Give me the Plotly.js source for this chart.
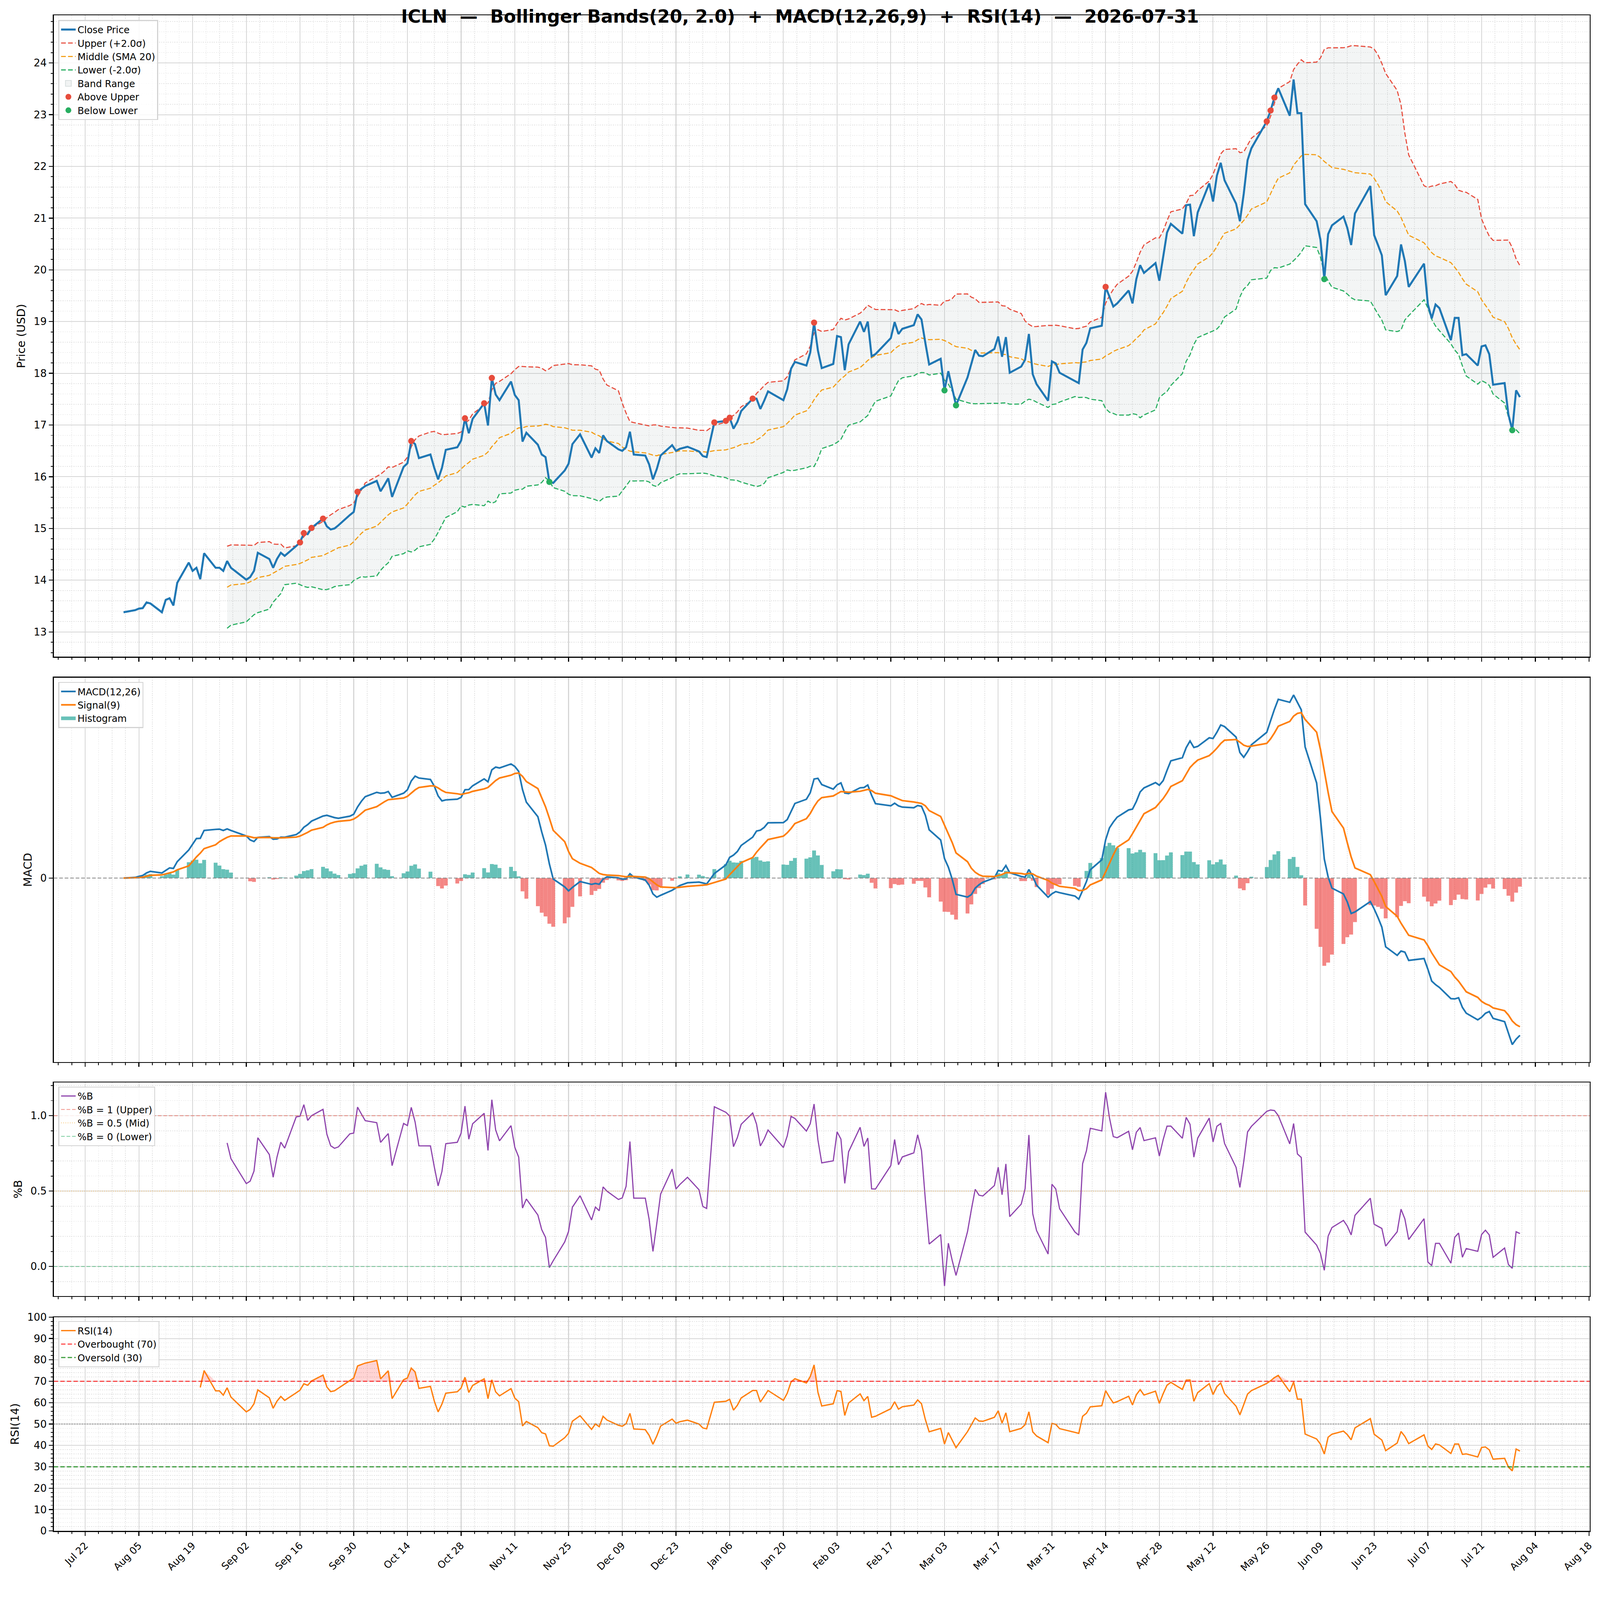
<!DOCTYPE html>
<html><head><meta charset="utf-8">
<script src="https://cdn.plot.ly/plotly-3.0.1.min.js"></script>
<style>html,body{margin:0;padding:0;background:#fff;overflow:hidden}#chart{width:4378px;height:4322px;transform-origin:0 0}</style>
</head><body><div id="chart"></div>
<script>
const FONT = 'DejaVu Sans, sans-serif';
const firstDay = '2025-08-01';
const lastDay = '2026-07-31';
const marketHolidays = ['2025-09-01','2025-11-27','2025-12-25','2026-01-01','2026-01-19','2026-02-16','2026-04-03','2026-05-25','2026-06-19','2026-07-03'];

const closePrice = [
 13.38,13.42,13.45,13.46,13.57,13.55,13.38,13.62,13.65,13.51,13.95,14.34,14.18,14.24,14.02,14.52,14.24,14.24,14.18,14.37,14.24,
 14.01,14.06,14.18,14.53,14.41,14.24,14.41,14.53,14.47,14.66,14.73,14.91,14.89,15.01,15.19,15.04,14.98,15.00,15.06,15.26,15.32,
 15.71,15.76,15.82,15.92,15.72,15.84,15.97,15.61,16.19,16.26,16.69,16.63,16.36,16.43,16.17,15.95,16.17,16.52,16.57,16.70,17.13,16.84,17.12,
 17.42,16.99,17.91,17.59,17.48,17.84,17.58,17.48,16.68,16.85,16.62,16.43,16.38,15.90,15.88,16.12,16.25,16.63,16.82,
 16.37,16.55,16.46,16.80,16.69,16.53,16.50,16.57,16.87,16.43,16.41,16.24,15.95,16.15,16.41,16.61,16.50,16.54,16.58,16.49,16.40,16.38,
 17.05,17.08,17.14,16.93,17.06,17.27,17.51,17.51,17.31,17.47,17.65,17.48,17.69,18.09,18.22,18.15,18.40,18.98,18.44,18.10,
 18.18,18.72,18.70,18.06,18.56,19.00,18.80,19.00,18.33,18.37,18.68,18.99,18.76,18.86,18.93,19.14,19.04,18.59,18.17,
 18.28,17.67,18.04,17.73,17.38,17.92,18.19,18.45,18.34,18.33,18.47,18.71,18.32,18.70,18.01,18.13,18.26,18.76,17.98,17.79,17.47,18.23,
 18.19,18.01,17.85,17.81,18.46,18.59,18.87,18.92,19.67,19.47,19.29,19.35,19.60,19.35,19.82,20.09,19.94,20.13,19.79,20.25,20.72,
 20.89,20.70,21.25,21.26,20.65,21.11,21.67,21.32,21.82,22.07,21.73,21.28,20.94,21.47,22.12,22.35,22.87,23.08,23.33,23.51,
 22.98,23.68,23.03,23.03,21.27,20.94,20.58,19.82,20.69,20.86,21.03,20.81,20.48,21.09,21.62,20.67,20.48,20.28,19.51,19.88,20.49,
 20.17,19.67,20.12,19.33,19.06,19.33,19.26,18.64,19.07,19.07,18.35,18.37,18.15,18.52,18.54,18.37,17.78,17.81,17.20,16.90,17.67,17.54
];
const aboveUpperDates = ['2025-09-16','2025-09-17','2025-09-19','2025-09-22','2025-10-01','2025-10-15','2025-10-29','2025-11-03','2025-11-05','2026-01-02','2026-01-05','2026-01-06','2026-01-12','2026-01-28','2026-04-14','2026-05-26','2026-05-27','2026-05-28'];
const belowLowerDates = ['2025-11-20','2026-03-03','2026-03-06','2026-06-10','2026-07-29'];
const bbPeriod = 20, bbK = 2.0;
const macdFast = 12, macdSlow = 26, macdSig = 9;
const rsiPeriod = 14;
const rsiLevels = [70, 30, 50];
const pctBLevels = [1, 0.5, 0];
const titleText = 'ICLN\u00a0\u00a0—\u00a0\u00a0Bollinger Bands(20, 2.0)\u00a0\u00a0+\u00a0\u00a0MACD(12,26,9)\u00a0\u00a0+\u00a0\u00a0RSI(14)\u00a0\u00a0—\u00a0\u00a02026-07-31';

// trading-day calendar
const dates = [];
(function(){
  const pad = n => (n<10?'0':'')+n;
  let d = new Date(firstDay+'T00:00:00Z');
  const end = new Date(lastDay+'T00:00:00Z');
  while (d <= end) {
    const wd = d.getUTCDay();
    const s = d.getUTCFullYear()+'-'+pad(d.getUTCMonth()+1)+'-'+pad(d.getUTCDate());
    if (wd!==0 && wd!==6 && marketHolidays.indexOf(s)<0) dates.push(s);
    d = new Date(d.getTime()+86400000);
  }
})();
if (dates.length !== closePrice.length) console.error('length mismatch', dates.length, closePrice.length);

// indicators
const N = closePrice.length;
const mid=[], up=[], lo=[], bbX=[], pctB=[];
for (let i=bbPeriod-1;i<N;i++){
  let s=0; for(let j=i-bbPeriod+1;j<=i;j++) s+=closePrice[j];
  const m=s/bbPeriod; let v=0;
  for(let j=i-bbPeriod+1;j<=i;j++) v+=(closePrice[j]-m)**2;
  const sd=Math.sqrt(v/(bbPeriod-1));
  bbX.push(dates[i]); mid.push(m); up.push(m+bbK*sd); lo.push(m-bbK*sd);
  pctB.push((closePrice[i]-(m-bbK*sd))/(2*bbK*sd));
}
function ema(arr, span){ const a=2/(span+1); const out=[arr[0]]; for(let i=1;i<arr.length;i++) out.push(a*arr[i]+(1-a)*out[i-1]); return out; }
const e12=ema(closePrice,macdFast), e26=ema(closePrice,macdSlow);
const macd=e12.map((v,i)=>v-e26[i]);
const signal=ema(macd,macdSig);
const hist=macd.map((v,i)=>v-signal[i]);
// Wilder RSI (ewm alpha=1/14, adjust=False, min_periods=14)
const rsiX=[], rsi=[];
(function(){
  const a=1/rsiPeriod; let ag=null, al=null;
  for(let i=1;i<N;i++){
    const d=closePrice[i]-closePrice[i-1];
    const g=d>0?d:0, l=d<0?-d:0;
    if(ag===null){ag=g; al=l;} else {ag=a*g+(1-a)*ag; al=a*l+(1-a)*al;}
    if(i>=rsiPeriod){ rsiX.push(dates[i]); rsi.push(al===0?100:100-100/(1+ag/al)); }
  }
})();
const idxOf = d => dates.indexOf(d);

const xr = ['2025-07-13 19:12','2026-08-18 04:48'];
const DAY = 86400000;
const tickFont = {family:FONT, size:28, color:'#000'};
const titleFont = {family:FONT, size:31, color:'#000'};
const gridC = '#d6d6d6', minorGridC = '#e2e2e2';

function xAxis(show, anchor){
  return {type:'date', range:xr, matches: anchor==='y'?undefined:'x', anchor:anchor,
    tick0:'2025-07-22', dtick:14*DAY, tickformat:'%b %d', showticklabels:show, tickangle:-45,
    tickfont:{family:FONT,size:27,color:'#000'},
    ticks:'outside', ticklen:11, tickwidth:2.5, tickcolor:'#000',
    showline:true, linecolor:'#000', linewidth:2.5, mirror:true,
    showgrid:true, gridcolor:gridC, gridwidth:2.2, zeroline:false,
    minor:{tick0:'2025-07-22', dtick:3.5*DAY, ticks:'outside', ticklen:6, tickwidth:2, tickcolor:'#000', showgrid:true, gridcolor:minorGridC, griddash:'dot', gridwidth:1.6}};
}
function yAxis(domain, anchor, extra){
  return Object.assign({domain:domain, anchor:anchor, tickfont:tickFont,
    ticks:'outside', ticklen:11, tickwidth:2.5, tickcolor:'#000',
    showline:true, linecolor:'#000', linewidth:2.5, mirror:true,
    showgrid:true, gridcolor:gridC, gridwidth:2.2, zeroline:false}, extra);
}
const H = 4147;
const dom = (topPx, botPx) => [(4189-botPx)/H, (4189-topPx)/H];

const traces = [];
// price panel
traces.push({x:bbX, y:lo, type:'scatter', mode:'lines', line:{width:0, color:'rgba(0,0,0,0)'}, showlegend:false, xaxis:'x', yaxis:'y'});
traces.push({x:bbX, y:up, type:'scatter', mode:'lines', fill:'tonexty', fillcolor:'rgba(149,165,166,0.11)', line:{width:0, color:'rgba(0,0,0,0)'}, showlegend:false, xaxis:'x', yaxis:'y'});
traces.push({x:[null], y:[null], type:'scatter', mode:'markers', marker:{symbol:'square', size:24, color:'rgba(149,165,166,0.12)', line:{color:'rgba(149,165,166,0.35)', width:2}}, name:'Band Range', legendrank:5, legend:'legend', xaxis:'x', yaxis:'y'});
traces.push({x:bbX, y:up, type:'scatter', mode:'lines', line:{color:'#e74c3c', width:3, dash:'13px,6px'}, name:'Upper (+2.0σ)', legendrank:2, legend:'legend', xaxis:'x', yaxis:'y'});
traces.push({x:bbX, y:mid, type:'scatter', mode:'lines', line:{color:'#f39c12', width:3, dash:'13px,6px'}, name:'Middle (SMA 20)', legendrank:3, legend:'legend', xaxis:'x', yaxis:'y'});
traces.push({x:bbX, y:lo, type:'scatter', mode:'lines', line:{color:'#27ae60', width:3, dash:'13px,6px'}, name:'Lower (-2.0σ)', legendrank:4, legend:'legend', xaxis:'x', yaxis:'y'});
traces.push({x:dates, y:closePrice, type:'scatter', mode:'lines', line:{color:'#1f77b4', width:5.5}, name:'Close Price', legendrank:1, legend:'legend', xaxis:'x', yaxis:'y'});
traces.push({x:aboveUpperDates, y:aboveUpperDates.map(d=>closePrice[idxOf(d)]), type:'scatter', mode:'markers', marker:{color:'#e74c3c', size:17}, name:'Above Upper', legendrank:6, legend:'legend', xaxis:'x', yaxis:'y'});
traces.push({x:belowLowerDates, y:belowLowerDates.map(d=>closePrice[idxOf(d)]), type:'scatter', mode:'markers', marker:{color:'#27ae60', size:17}, name:'Below Lower', legendrank:7, legend:'legend', xaxis:'x', yaxis:'y'});

// MACD panel
traces.push({x:dates, y:hist.map(v=>v>=0?v:null), type:'bar', width:DAY, marker:{color:'rgba(38,166,154,0.7)', line:{width:0}}, showlegend:false, xaxis:'x2', yaxis:'y2'});
traces.push({x:dates, y:hist.map(v=>v<0?v:null), type:'bar', width:DAY, marker:{color:'rgba(239,83,80,0.7)', line:{width:0}}, showlegend:false, xaxis:'x2', yaxis:'y2'});
traces.push({x:dates, y:macd, type:'scatter', mode:'lines', line:{color:'#1f77b4', width:4.5}, name:'MACD(12,26)', legendrank:1, legend:'legend2', xaxis:'x2', yaxis:'y2'});
traces.push({x:dates, y:signal, type:'scatter', mode:'lines', line:{color:'#ff7f0e', width:4.5}, name:'Signal(9)', legendrank:2, legend:'legend2', xaxis:'x2', yaxis:'y2'});
traces.push({x:[null], y:[null], type:'scatter', mode:'lines', line:{color:'rgba(38,166,154,0.7)', width:10}, name:'Histogram', legendrank:3, legend:'legend2', xaxis:'x2', yaxis:'y2'});

// %B panel
traces.push({x:bbX, y:pctB, type:'scatter', mode:'lines', line:{color:'#8e44ad', width:3.2}, name:'%B', legendrank:1, legend:'legend3', xaxis:'x3', yaxis:'y3'});
traces.push({x:xr, y:[pctBLevels[0],pctBLevels[0]], type:'scatter', mode:'lines', line:{color:'rgba(231,76,60,0.6)', width:2.2, dash:'10px,5px'}, name:'%B = 1 (Upper)', legendrank:2, legend:'legend3', xaxis:'x3', yaxis:'y3'});
traces.push({x:xr, y:[pctBLevels[1],pctBLevels[1]], type:'scatter', mode:'lines', line:{color:'rgba(243,156,18,0.6)', width:2.2, dash:'2px,4px'}, name:'%B = 0.5 (Mid)', legendrank:3, legend:'legend3', xaxis:'x3', yaxis:'y3'});
traces.push({x:xr, y:[pctBLevels[2],pctBLevels[2]], type:'scatter', mode:'lines', line:{color:'rgba(39,174,96,0.6)', width:2.2, dash:'10px,5px'}, name:'%B = 0 (Lower)', legendrank:4, legend:'legend3', xaxis:'x3', yaxis:'y3'});

// RSI panel
traces.push({x:rsiX, y:rsiX.map(()=>rsiLevels[0]), type:'scatter', mode:'lines', line:{width:0,color:'rgba(0,0,0,0)'}, showlegend:false, xaxis:'x4', yaxis:'y4'});
traces.push({x:rsiX, y:rsi.map(v=>Math.max(v,rsiLevels[0])), type:'scatter', mode:'lines', fill:'tonexty', fillcolor:'rgba(255,0,0,0.17)', line:{width:0,color:'rgba(0,0,0,0)'}, showlegend:false, xaxis:'x4', yaxis:'y4'});
traces.push({x:rsiX, y:rsiX.map(()=>rsiLevels[1]), type:'scatter', mode:'lines', line:{width:0,color:'rgba(0,0,0,0)'}, showlegend:false, xaxis:'x4', yaxis:'y4'});
traces.push({x:rsiX, y:rsi.map(v=>Math.min(v,rsiLevels[1])), type:'scatter', mode:'lines', fill:'tonexty', fillcolor:'rgba(0,160,0,0.17)', line:{width:0,color:'rgba(0,0,0,0)'}, showlegend:false, xaxis:'x4', yaxis:'y4'});
traces.push({x:rsiX, y:rsi, type:'scatter', mode:'lines', line:{color:'#ff7f0e', width:3.6}, name:'RSI(14)', legendrank:1, legend:'legend4', xaxis:'x4', yaxis:'y4'});
traces.push({x:xr, y:[rsiLevels[0],rsiLevels[0]], type:'scatter', mode:'lines', line:{color:'rgba(255,0,0,0.75)', width:3, dash:'12px,6px'}, name:'Overbought (70)', legendrank:2, legend:'legend4', xaxis:'x4', yaxis:'y4'});
traces.push({x:xr, y:[rsiLevels[1],rsiLevels[1]], type:'scatter', mode:'lines', line:{color:'rgba(0,128,0,0.75)', width:3, dash:'12px,6px'}, name:'Oversold (30)', legendrank:3, legend:'legend4', xaxis:'x4', yaxis:'y4'});

// MACD range
const allM = macd.concat(signal, hist);
const mLo = Math.min(...allM), mHi = Math.max(...allM), mPad = 0.05*(mHi-mLo);

function legendBox(y){
  return {x:0.003, y:y, xref:'paper', yref:'paper', xanchor:'left', yanchor:'top',
    bgcolor:'rgba(255,255,255,0.85)', bordercolor:'#d3d3d3', borderwidth:2.5,
    font:{family:FONT, size:26, color:'#000'}, tracegroupgap:0, itemwidth:40, traceorder:'normal'};
}

const layout = {
  width:4378, height:4322, paper_bgcolor:'#fff', plot_bgcolor:'#fff',
  margin:{l:147, r:28, t:42, b:133, pad:0}, showlegend:true, hovermode:false, barmode:'overlay',
  font:{family:FONT, color:'#000'},
  title:{text:titleText, x:0.5, xref:'container', y:1-45/4322, yref:'container', yanchor:'middle', xanchor:'center',
    font:{family:FONT, size:49, color:'#000', weight:'bold'}},
  xaxis: xAxis(false,'y'),
  xaxis2: xAxis(false,'y2'),
  xaxis3: xAxis(false,'y3'),
  xaxis4: xAxis(true,'y4'),
  yaxis: yAxis(dom(42,1797),'x',{range:[12.52,24.92], dtick:1, tick0:0,
    title:{text:'Price (USD)', font:titleFont, standoff:14},
    minor:{dtick:0.2, tick0:0, ticks:'outside', ticklen:6, tickwidth:2, tickcolor:'#000', showgrid:true, gridcolor:minorGridC, griddash:'dot', gridwidth:1.6}}),
  yaxis2: yAxis(dom(1854,2906),'x2',{range:[mLo-mPad, mHi+mPad], tickvals:[0], ticktext:['0'], showgrid:false,
    title:{text:'MACD', font:titleFont, standoff:14}}),
  yaxis3: yAxis(dom(2962,3546),'x3',{range:[-0.195,1.22], dtick:0.5, tick0:0, tickformat:'.1f',
    title:{text:'%B', font:titleFont, standoff:14},
    minor:{dtick:0.1, tick0:0, ticks:'outside', ticklen:6, tickwidth:2, tickcolor:'#000', showgrid:true, gridcolor:minorGridC, griddash:'dot', gridwidth:1.6}}),
  yaxis4: yAxis(dom(3604,4189),'x4',{range:[0,100], dtick:10, tick0:0,
    title:{text:'RSI(14)', font:titleFont, standoff:14},
    minor:{dtick:2, tick0:0, ticks:'outside', ticklen:6, tickwidth:2, tickcolor:'#000', showgrid:true, gridcolor:minorGridC, griddash:'dot', gridwidth:1.6}}),
  legend: legendBox((4189-55)/H),
  legend2: legendBox((4189-1866)/H),
  legend3: legendBox((4189-2973)/H),
  legend4: legendBox((4189-3615)/H),
  shapes:[
    {type:'line', xref:'x2 domain', yref:'y2', x0:0, x1:1, y0:0, y1:0, line:{color:'rgba(128,128,128,0.85)', width:2.5, dash:'10px,5px'}},
    {type:'line', xref:'x4 domain', yref:'y4', x0:0, x1:1, y0:rsiLevels[2], y1:rsiLevels[2], line:{color:'rgba(128,128,128,0.7)', width:2.5, dash:'3px,4px'}}
  ]
};
function fit(){
  const s = Math.min(window.innerWidth/4378, window.innerHeight/4322);
  document.getElementById('chart').style.transform = 'scale('+s+')';
}
fit();
Plotly.newPlot('chart', traces, layout, {staticPlot:true, displayModeBar:false});
</script></body></html>
